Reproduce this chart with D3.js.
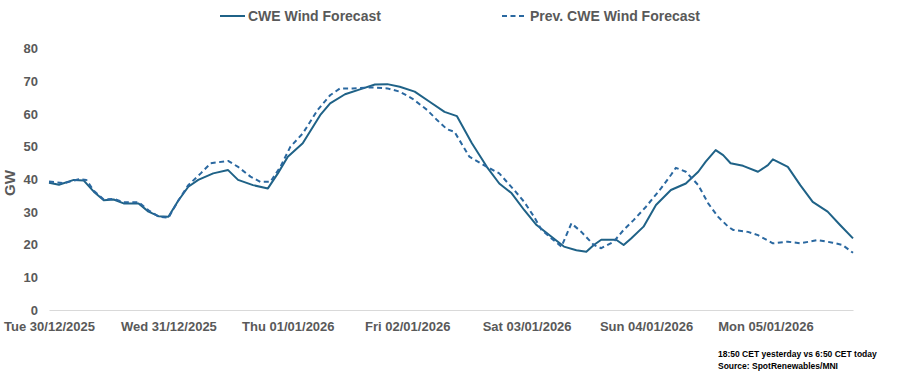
<!DOCTYPE html>
<html>
<head>
<meta charset="utf-8">
<script src="https://cdn.jsdelivr.net/npm/d3@7"></script>
<style>
  body { margin: 0; background: #fff; }
  svg text { font-family: "Liberation Sans", Arial, sans-serif; font-weight: bold; }
</style>
</head>
<body>
<svg id="chart" width="907" height="379"></svg>
<script>
// --- data (hours since Tue 30/12/2025 00:00, GW) ---
const dayLabels = ["Tue 30/12/2025", "Wed 31/12/2025", "Thu 01/01/2026", "Fri 02/01/2026",
                   "Sat 03/01/2026", "Sun 04/01/2026", "Mon 05/01/2026"];
const yTicks = [0, 10, 20, 30, 40, 50, 60, 70, 80];

const cweHours = [0, 2, 5, 7, 9, 11, 13, 15, 18, 20, 22, 24, 26, 28, 30, 33, 36, 38, 41, 44, 46, 48,
  51, 54.5, 56.5, 59.5, 62.5, 65.5, 68, 70.5, 73.5, 76.5, 79.5, 82, 85, 88, 90.5, 93, 95.5, 98, 101,
  103.5, 106, 108, 109.5, 111, 114, 115.5, 117, 119.5, 122, 125, 128, 130.5, 132, 134, 135.5, 137,
  139.5, 142.5, 144.5, 145.5, 148.5, 151, 153.5, 156.5, 159, 161.6];
const cweValues = [38.9, 38.3, 39.8, 39.6, 36.2, 33.6, 33.8, 32.6, 32.6, 30.1, 28.7, 28.5, 33.5, 37.7,
  39.8, 41.8, 42.8, 39.8, 38.2, 37.2, 41.8, 46.9, 51.0, 59.6, 63.2, 66.0, 67.5, 69.0, 69.1, 68.3,
  66.8, 63.7, 60.6, 59.3, 51.0, 43.8, 38.7, 35.7, 30.6, 26.0, 22.4, 19.4, 18.3, 17.8, 19.9, 21.5,
  21.5, 19.9, 21.9, 25.5, 32.1, 36.7, 38.7, 42.3, 45.4, 48.9, 47.4, 44.9, 44.1, 42.3, 44.3, 46.1,
  43.8, 38.2, 33.1, 30.1, 26.0, 21.9];

const prevHours = [0, 3, 6, 7.5, 9, 11, 13, 15, 18, 20, 22, 24, 26, 28, 30.5, 32.5, 36, 38, 40.5, 42.5,
  44.5, 46.5, 48.5, 51, 54, 56.5, 58.5, 61, 64.5, 68, 70.5, 73, 76, 78, 80, 81.5, 84.5, 88, 90.5, 93.5,
  95.5, 97.5, 99, 101, 103, 105, 107, 109.5, 111, 113.5, 115.5, 117.5, 120, 123, 125, 126, 128, 130.5,
  132.5, 134.5, 136.5, 137.5, 140.5, 142.5, 145.5, 148.5, 151, 154.5, 157.5, 159.5, 161.6];
const prevValues = [39.3, 38.8, 40.0, 39.8, 36.5, 33.8, 34.0, 33.0, 33.0, 30.5, 28.6, 28.2, 33.5, 38.2,
  41.8, 44.9, 45.6, 43.8, 40.8, 39.2, 39.2, 43.8, 49.9, 54.0, 61.2, 65.7, 67.8, 67.8, 68.1, 67.8,
  66.8, 64.7, 61.2, 58.1, 55.3, 54.5, 46.9, 43.8, 41.8, 36.7, 33.1, 28.5, 24.5, 21.9, 19.4, 26.5,
  23.9, 19.9, 18.9, 20.9, 24.5, 27.5, 31.6, 37.2, 41.3, 43.5, 42.3, 38.2, 32.6, 28.5, 25.5, 24.5,
  23.9, 22.9, 20.4, 20.9, 20.4, 21.4, 20.6, 19.9, 17.5];

const series = [
  { name: "CWE Wind Forecast", hours: cweHours, values: cweValues, color: "#1f6287", dash: null },
  { name: "Prev. CWE Wind Forecast", hours: prevHours, values: prevValues, color: "#2a68a0", dash: "5,3.5" }
];

// --- setup ---
const svg = d3.select("#chart");
const x = d3.scaleLinear().domain([0, 161.6]).range([49, 853]);
const y = d3.scaleLinear().domain([0, 80]).range([310, 48.5]);

// x axis
const xAxis = svg.append("g")
  .attr("transform", "translate(0,310)")
  .call(d3.axisBottom(x)
    .tickValues(dayLabels.map((d, i) => i * 24))
    .tickFormat((d, i) => dayLabels[i])
    .tickSize(0)
    .tickPadding(12));
xAxis.select(".domain").attr("stroke", "#d9d9d9").attr("stroke-width", 1.2);
xAxis.selectAll("text").style("font-size", "13px").attr("fill", "#595959");

// y axis
const yAxis = svg.append("g")
  .attr("transform", "translate(38,0)")
  .call(d3.axisLeft(y).tickValues(yTicks).tickSize(0).tickPadding(0));
yAxis.select(".domain").remove();
yAxis.selectAll("text").style("font-size", "13px").attr("fill", "#595959");

svg.append("text")
  .attr("transform", "translate(15,183) rotate(-90)")
  .attr("text-anchor", "middle")
  .style("font-size", "15px")
  .attr("fill", "#595959")
  .text("GW");

// lines
const line = d3.line()
  .x(d => x(d[0]))
  .y(d => y(d[1]));

series.forEach(s => {
  const pts = s.hours.map((h, i) => [h, s.values[i]]);
  svg.append("path")
    .datum(pts)
    .attr("fill", "none")
    .attr("stroke", s.color)
    .attr("stroke-width", 2)
    .attr("stroke-linejoin", "round")
    .attr("stroke-dasharray", s.dash)
    .attr("d", line);
});

// legend
const legendX = [220, 502];
series.forEach((s, i) => {
  const g = svg.append("g").attr("transform", `translate(${legendX[i]},16)`);
  g.append("line")
    .attr("x1", 0).attr("x2", 25)
    .attr("stroke", s.color)
    .attr("stroke-width", 2)
    .attr("stroke-dasharray", s.dash);
  g.append("text")
    .attr("x", 28).attr("y", 5)
    .style("font-size", "14px")
    .attr("fill", "#595959")
    .text(s.name);
});

// footnote
svg.append("text")
  .attr("x", 718).attr("y", 357)
  .style("font-size", "8.5px")
  .attr("fill", "#000")
  .text("18:50 CET yesterday vs  6:50 CET today");
svg.append("text")
  .attr("x", 718).attr("y", 369)
  .style("font-size", "8.5px")
  .attr("fill", "#000")
  .text("Source: SpotRenewables/MNI");
</script>
</body>
</html>
